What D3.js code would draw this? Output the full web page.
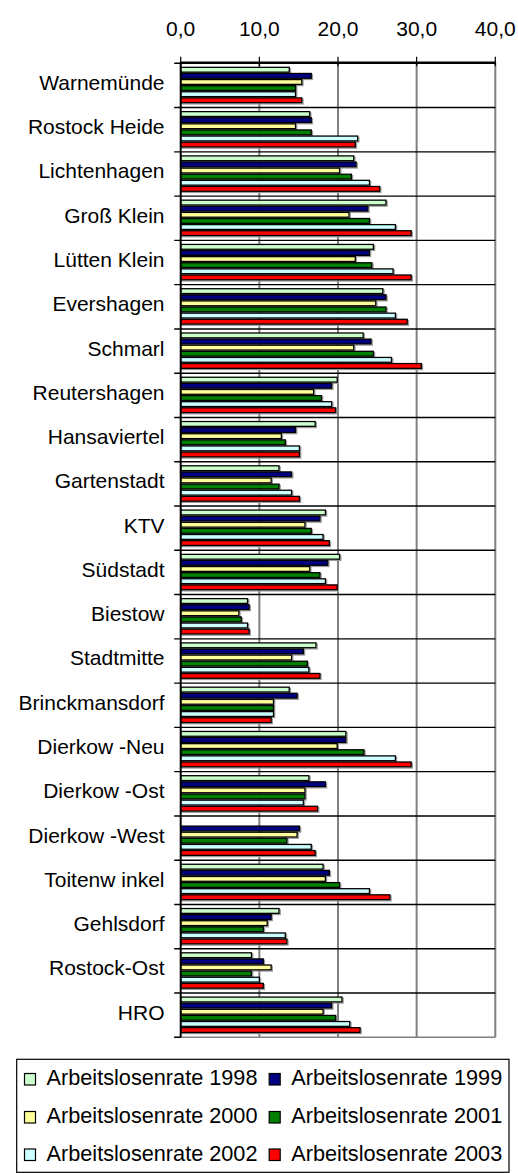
<!DOCTYPE html>
<html>
<head>
<meta charset="utf-8">
<script src="https://cdn.jsdelivr.net/npm/d3@7"></script>
<style>
  html, body { margin: 0; padding: 0; background: #fff; }
  svg { display: block; }
  text { font-family: "Liberation Sans", Arial, sans-serif; fill: #000; }
</style>
</head>
<body>
<svg id="chart" width="518" height="1173"></svg>
<script>
// Stadtbereiche of Rostock
const categories = [
  "Warnemünde", "Rostock Heide", "Lichtenhagen", "Groß Klein", "Lütten Klein",
  "Evershagen", "Schmarl", "Reutershagen", "Hansaviertel", "Gartenstadt", "KTV",
  "Südstadt", "Biestow", "Stadtmitte", "Brinckmansdorf", "Dierkow -Neu",
  "Dierkow -Ost", "Dierkow -West", "Toitenw inkel", "Gehlsdorf", "Rostock-Ost", "HRO"
];

const seriesNames = [
  "Arbeitslosenrate 1998", "Arbeitslosenrate 1999", "Arbeitslosenrate 2000",
  "Arbeitslosenrate 2001", "Arbeitslosenrate 2002", "Arbeitslosenrate 2003"
];

// Unemployment rate in percent, one value per category
const rate1998 = [13.8, 16.4, 22.0, 26.1, 24.5, 25.7, 23.2, 19.9, 17.1, 12.5, 18.4, 20.2, 8.5, 17.2, 13.8, 21.0, 16.3, null, 18.1, 12.5, 9.0, 20.5];
const rate1999 = [16.6, 16.6, 22.3, 23.8, 24.0, 26.1, 24.2, 19.2, 14.6, 14.1, 17.7, 18.7, 8.7, 15.6, 14.8, 21.0, 18.4, 15.1, 18.9, 11.5, 10.5, 19.2];
const rate2000 = [15.4, 14.6, 20.2, 21.4, 22.2, 24.8, 22.0, 16.9, 12.8, 11.5, 15.8, 16.4, 7.4, 14.1, 11.8, 19.9, 15.8, 14.8, 18.4, 11.0, 11.5, 18.1];
const rate2001 = [14.6, 16.6, 21.7, 24.0, 24.3, 26.1, 24.5, 17.9, 13.3, 12.5, 16.6, 17.7, 7.7, 16.1, 11.8, 23.3, 15.8, 13.5, 20.2, 10.5, 9.0, 19.7];
const rate2002 = [14.6, 22.5, 24.0, 27.3, 27.0, 27.3, 26.8, 19.2, 15.1, 14.1, 18.1, 18.4, 8.5, 16.3, 11.8, 27.3, 15.6, 16.6, 24.0, 13.3, 10.0, 21.5];
const rate2003 = [15.4, 22.2, 25.3, 29.3, 29.3, 28.8, 30.6, 19.7, 15.1, 15.1, 18.9, 19.9, 8.7, 17.7, 11.5, 29.3, 17.4, 17.1, 26.6, 13.5, 10.5, 22.8];

const seriesColors = ["#CCFFCC", "#000080", "#FFFF99", "#008000", "#CCFFFF", "#FF0000"];

const tickValues = [0, 10, 20, 30, 40];
const tickLabels = ["0,0", "10,0", "20,0", "30,0", "40,0"];

const seriesValues = [rate1998, rate1999, rate2000, rate2001, rate2002, rate2003];

const svg = d3.select("#chart");

const plot = { left: 180.7, right: 495.3, top: 63.3, bottom: 1037.3 };

const x = d3.scaleLinear().domain([0, 40]).range([plot.left, plot.right]);
const y = d3.scaleBand().domain(categories).range([plot.top, plot.bottom]).padding(0);
const yInner = d3.scaleBand().domain(seriesNames).range([3.4, y.bandwidth() - 4.2]).padding(0);

// vertical gridlines
svg.append("g").selectAll("line")
  .data(tickValues.filter(d => d > 0))
  .join("line")
  .attr("x1", d => x(d)).attr("x2", d => x(d))
  .attr("y1", plot.top - 1).attr("y2", plot.bottom)
  .attr("stroke", "#808080").attr("stroke-width", 2);

// category separators with outward ticks
const bounds = categories.map(c => y(c)).concat([plot.bottom]);
svg.append("g").selectAll("line")
  .data(bounds)
  .join("line")
  .attr("x1", plot.left - 6.5).attr("x2", plot.right)
  .attr("y1", d => d).attr("y2", d => d)
  .attr("stroke", (d, i) => i === bounds.length - 1 ? "#808080" : "#000")
  .attr("stroke-width", 1.4);
svg.append("line")
  .attr("x1", plot.left - 6.5).attr("x2", plot.left)
  .attr("y1", plot.bottom).attr("y2", plot.bottom)
  .attr("stroke", "#000").attr("stroke-width", 1.4);

// bars
const rows = [];
categories.forEach((c, ci) => {
  seriesNames.forEach((s, si) => {
    const v = seriesValues[si][ci];
    if (v != null) rows.push({ cat: c, series: s, si, value: v });
  });
});

const barH = yInner.bandwidth();
const sw = 1.3;
const bars = svg.append("g");
bars.selectAll("rect.shadow")
  .data(rows)
  .join("rect")
  .attr("class", "shadow")
  .attr("x", x(0) + 1.2)
  .attr("y", d => y(d.cat) + yInner(d.series) + sw / 2 + 1.2)
  .attr("width", d => x(d.value) - x(0))
  .attr("height", barH - sw)
  .attr("fill", "none")
  .attr("stroke", "#9a9a9a")
  .attr("stroke-width", sw);
bars.selectAll("rect.bar")
  .data(rows)
  .join("rect")
  .attr("class", "bar")
  .attr("x", x(0))
  .attr("y", d => y(d.cat) + yInner(d.series) + sw / 2)
  .attr("width", d => x(d.value) - x(0))
  .attr("height", barH - sw)
  .attr("fill", d => seriesColors[d.si])
  .attr("stroke", "#000")
  .attr("stroke-width", sw);

// left axis line
svg.append("line")
  .attr("x1", plot.left).attr("x2", plot.left)
  .attr("y1", plot.top - 1).attr("y2", plot.bottom)
  .attr("stroke", "#000").attr("stroke-width", 2);

// top value axis
const axisY = 62.3;
svg.append("line")
  .attr("x1", plot.left).attr("x2", plot.right)
  .attr("y1", axisY).attr("y2", axisY)
  .attr("stroke", "#000").attr("stroke-width", 1.4);
svg.append("g").selectAll("line")
  .data(tickValues)
  .join("line")
  .attr("x1", d => x(d)).attr("x2", d => x(d))
  .attr("y1", axisY - 5.5).attr("y2", axisY + 4)
  .attr("stroke", "#000").attr("stroke-width", 1.2);
svg.append("g").selectAll("text")
  .data(tickValues)
  .join("text")
  .attr("x", d => x(d))
  .attr("y", 36)
  .attr("text-anchor", "middle")
  .attr("font-size", "21px")
  .text((d, i) => tickLabels[i]);

// category labels
svg.append("g").selectAll("text")
  .data(categories)
  .join("text")
  .attr("x", 164.5)
  .attr("y", d => y(d) + y.bandwidth() / 2 + 4.5)
  .attr("text-anchor", "end")
  .attr("font-size", "21px")
  .text(d => d);

// legend
const legend = svg.append("g");
legend.append("rect")
  .attr("x", 16.7).attr("y", 1059.3)
  .attr("width", 492.3).attr("height", 113)
  .attr("fill", "#fff").attr("stroke", "#000").attr("stroke-width", 1.2);
const colX = [24, 268.7];
const rowY = [1085, 1123, 1160.5];
const items = legend.selectAll("g.item")
  .data(seriesNames)
  .join("g")
  .attr("class", "item")
  .attr("transform", (d, i) => `translate(${colX[i % 2]},${rowY[Math.floor(i / 2)]})`);
items.append("rect")
  .attr("x", 0.5).attr("y", -11.5)
  .attr("width", 11).attr("height", 11.5)
  .attr("fill", (d, i) => seriesColors[i])
  .attr("stroke", "#000").attr("stroke-width", 1.2);
items.append("text")
  .attr("x", 22.5).attr("y", 0)
  .attr("font-size", "21.7px")
  .text(d => d);
</script>
</body>
</html>
